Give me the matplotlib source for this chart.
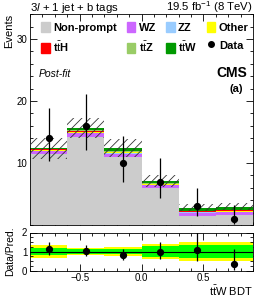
import numpy as np
import matplotlib
matplotlib.use("Agg")
import matplotlib.pyplot as plt
from matplotlib.patches import Patch
from matplotlib.lines import Line2D
from matplotlib.ticker import MultipleLocator

plt.rcParams["font.family"] = ["Liberation Sans", "DejaVu Sans"]
plt.rcParams["mathtext.fontset"] = "custom"
plt.rcParams["mathtext.rm"] = "Liberation Sans"
plt.rcParams["mathtext.it"] = "Liberation Sans:italic"
plt.rcParams["hatch.linewidth"] = 0.6

# bins of the ttW BDT output
edges = [-0.9, -0.6, -0.3, 0.0, 0.3, 0.6, 0.9]
centers = [-0.75, -0.45, -0.15, 0.15, 0.45, 0.75]

# post-fit stacked predictions (bottom to top)
nonprompt = [11.4, 14.2, 10.9, 5.9, 1.5, 1.6]
wz = [0.5, 0.6, 0.6, 0.5, 0.5, 0.5]
zz = [0.1, 0.1, 0.1, 0.05, 0.05, 0.05]
other = [0.15, 0.15, 0.15, 0.15, 0.1, 0.15]
tth = [0.05, 0.05, 0.05, 0.05, 0.05, 0.05]
ttz = [0.1, 0.2, 0.2, 0.15, 0.1, 0.1]
ttw = [0.05, 0.3, 0.4, 0.3, 0.5, 0.5]

data = [14, 16, 10, 7, 3, 1]
data_lo = [3.7, 3.9, 3.1, 2.6, 1.6, 0.83]
data_hi = [4.8, 5.1, 4.3, 3.8, 2.9, 2.3]

hatch_unc = [1.7, 1.6, 1.5, 1.0, 0.6, 0.6]      # absolute, main panel
band1 = [0.17, 0.12, 0.13, 0.27, 0.35, 0.35]    # relative, ratio panel 1 sigma
band2 = [0.33, 0.20, 0.22, 0.40, 0.50, 0.50]    # relative, ratio panel 2 sigma

comps = [("Non-prompt", nonprompt, "#cccccc"), ("WZ", wz, "#cc66ff"),
         ("ZZ", zz, "#99ccff"), ("Other", other, "#ffff00"),
         (r"t$\bar{\rm t}$H", tth, "#ff0000"), (r"t$\bar{\rm t}$Z", ttz, "#99cc66"),
         (r"t$\bar{\rm t}$W", ttw, "#009900")]

W = 0.3
fig = plt.figure(figsize=(2.66, 3.0), dpi=100)
ax = fig.add_axes([0.113, 0.25, 0.838, 0.703])
rx = fig.add_axes([0.113, 0.098, 0.838, 0.127])

bottom = np.zeros(len(centers))
for name, vals, col in comps:
    ax.bar(centers, vals, width=W, bottom=bottom, color=col, lw=0, zorder=2)
    bottom += np.array(vals)
total = bottom
hu = np.array(hatch_unc)
ax.bar(centers, 2 * hu, width=W, bottom=total - hu, fill=False, hatch="////",
       edgecolor="#333333", lw=0, zorder=3)
ax.errorbar(centers, data, yerr=[data_lo, data_hi], fmt="o", color="black",
            ms=4.2, elinewidth=0.9, capsize=0, zorder=5)

ax.set_xlim(-0.9, 0.9)
ax.set_ylim(0, 34)
ax.set_yticks([10, 20, 30])
ax.yaxis.set_minor_locator(MultipleLocator(2))
ax.xaxis.set_major_locator(MultipleLocator(0.5))
ax.xaxis.set_minor_locator(MultipleLocator(0.1))
ax.tick_params(labelbottom=False)
ax.set_ylabel("Events", loc="top", fontsize=8, labelpad=2)

handles = [Patch(color=c) for _, _, c in comps] + \
    [Line2D([], [], marker="o", color="black", ls="none", ms=4)]
labels = [n for n, _, _ in comps] + ["Data"]
order = [0, 4, 1, 5, 2, 6, 3, 7]
leg = ax.legend([handles[i] for i in order], [labels[i] for i in order], ncol=4,
                loc="upper left", bbox_to_anchor=(0.03, 0.985), frameon=False,
                prop={"weight": "bold", "size": 8}, handlelength=0.8, handleheight=1.1,
                handletextpad=0.3, columnspacing=0.85, labelspacing=0.6, borderaxespad=0)

ax.text(0.04, 0.70, "Post-fit", transform=ax.transAxes, fontsize=7.5, style="italic")
ax.text(0.975, 0.70, "CMS", transform=ax.transAxes, fontsize=10, weight="bold", ha="right")
ax.text(0.955, 0.63, "(a)", transform=ax.transAxes, fontsize=8, weight="bold", ha="right")
ax.text(0.0, 1.015, r"3$\mathit{l}$ + 1 jet + b tags", transform=ax.transAxes, fontsize=8.2)
ax.text(1.0, 1.015, r"19.5 fb$^{-1}$ (8 TeV)", transform=ax.transAxes, fontsize=8.2, ha="right")

# ratio panel
ones = np.ones(len(centers))
b1, b2 = np.array(band1), np.array(band2)
rx.bar(centers, 2 * b2, width=W, bottom=ones - b2, color="#ffff00", lw=0, zorder=1)
rx.bar(centers, 2 * b1, width=W, bottom=ones - b1, color="#00ff00", lw=0, zorder=2)
rx.axhline(1, color="black", lw=0.8, zorder=3)
d = np.array(data, float)
rx.errorbar(centers, d / total, yerr=[np.array(data_lo) / total, np.array(data_hi) / total],
            fmt="o", color="black", ms=4.2, elinewidth=0.9, capsize=0, zorder=5)
rx.set_xlim(-0.9, 0.9)
rx.set_ylim(0, 2)
rx.yaxis.set_major_locator(MultipleLocator(1))
rx.yaxis.set_minor_locator(MultipleLocator(0.25))
rx.xaxis.set_major_locator(MultipleLocator(0.5))
rx.xaxis.set_minor_locator(MultipleLocator(0.1))
rx.set_ylabel("Data/Pred.", fontsize=7.5, labelpad=5)
rx.set_xlabel(r"t$\bar{\rm t}$W BDT", loc="right", fontsize=8, labelpad=0.5)

for a in (ax, rx):
    a.tick_params(which="both", direction="in", top=True, right=True, labelsize=7, pad=2)
    a.tick_params(which="major", length=5, width=0.6)
    a.tick_params(which="minor", length=2.5, width=0.6)
    for s in a.spines.values():
        s.set_linewidth(0.6)

fig.savefig("out.png", dpi=100)
